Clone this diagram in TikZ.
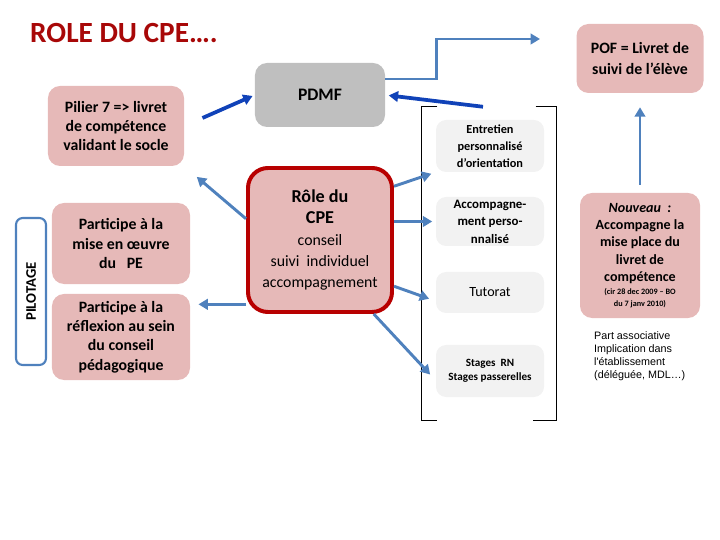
\documentclass[tikz,border=0pt]{standalone}
\usepackage{fontspec}
\setmainfont{Carlito}
\newfontfamily\arialfont{Liberation Sans}
\usetikzlibrary{arrows.meta}

\definecolor{pinkfill}{RGB}{230,185,184}
\definecolor{grayfill}{RGB}{191,191,191}
\definecolor{lightfill}{RGB}{242,242,242}
\definecolor{rolered}{RGB}{184,0,0}
\definecolor{titlered}{RGB}{168,8,8}
\definecolor{steel}{RGB}{79,129,189}
\definecolor{deepblue}{RGB}{16,66,184}

\begin{document}
\begin{tikzpicture}[x=0.03cm,y=-0.03cm,>={Triangle[length=8pt,width=9pt]},
        pinkbox/.style={fill=pinkfill, rounded corners=0.36cm, align=center, inner sep=2pt,
            font=\bfseries\fontsize{13.5}{16.5}\selectfont},
        graybox/.style={fill=grayfill, rounded corners=0.36cm, align=center,
            font=\bfseries\fontsize{15}{18}\selectfont},
        lightbox/.style={fill=lightfill, rounded corners=0.3cm, align=center, inner sep=1pt,
            minimum width=3.24cm},
        bluearrow/.style={->, draw=steel, line width=2.5pt},
        darkarrow/.style={->, draw=deepblue, line width=3.2pt}]
        \useasboundingbox (0,0) rectangle (720,540);

        \node (title) [anchor=west, inner sep=0, text=titlered, font=\bfseries\fontsize{25}{30}\selectfont] at (30,33) {ROLE DU CPE….};

        \node (pdmf) [graybox, minimum width=3.9cm, minimum height=1.92cm] at (320,95) {PDMF};
        \node (pilier) [pinkbox, minimum width=4.08cm, minimum height=2.4cm] at (116,126) {Pilier 7 => livret\\de compétence\\validant le socle};
        \node (pof) [pinkbox, font=\bfseries\fontsize{13.5}{18}\selectfont, minimum width=3.81cm, minimum height=2.07cm] at (640,58.5) {POF = Livret de\\suivi de l’élève};
        \node (role) [pinkbox, draw=rolered, line width=3.4pt, rounded corners=0.6cm, font=\fontsize{13.5}{18}\selectfont,
            minimum width=4.32cm, minimum height=4.32cm] at (320,240)
            {{\bfseries\fontsize{15.5}{19}\selectfont Rôle du}\\{\bfseries\fontsize{15.5}{19}\selectfont CPE}\\conseil\\suivi\ \ individuel\\accompagnement};
        \node (part1) [pinkbox, minimum width=4.14cm, minimum height=2.43cm] at (121,243.5) {Participe à la\\mise en œuvre\\du\ \ \ PE};
        \node (part2) [pinkbox, minimum width=4.14cm, minimum height=2.58cm] at (121,337) {Participe à la\\réflexion au sein\\du conseil\\pédagogique};
        \node (pilot) [draw=steel, line width=1.8pt, rounded corners=0.2cm, rotate=90, minimum width=4.41cm, minimum height=0.9cm,
            font=\bfseries\fontsize{12.5}{15}\selectfont] at (31,291.5) {PILOTAGE};

        % colonne du milieu
        \node (panel) [minimum width=4.05cm, minimum height=9.39cm] at (489,263.5) {};
        \draw[line width=0.8pt] ([xshift=0.48cm]panel.north west) -- (panel.north west) -- (panel.south west) -- ([xshift=0.48cm]panel.south west);
        \draw[line width=0.8pt] ([xshift=-0.63cm]panel.north east) -- (panel.north east) -- (panel.south east) -- ([xshift=-0.72cm]panel.south east);
        \node (entretien) [lightbox, minimum height=1.56cm, font=\bfseries\fontsize{10.5}{14.5}\selectfont] at (490,146) {Entretien\\personnalisé\\d’orientation};
        \node (accomp) [lightbox, minimum height=1.47cm, font=\bfseries\fontsize{11}{15}\selectfont] at (490,221.5) {Accompagne-\\ment perso-\\nnalisé};
        \node (tutorat) [lightbox, minimum height=1.23cm, font=\fontsize{12}{14}\selectfont] at (490,292.5) {Tutorat};
        \node (stages) [lightbox, minimum height=1.56cm, font=\bfseries\fontsize{9.5}{12}\selectfont] at (490,371) {Stages\ \ RN\\Stages passerelles};

        \node (nouveau) [pinkbox, font=\bfseries\fontsize{12}{14.7}\selectfont, minimum width=3.6cm, minimum height=3.75cm] at (640,255.5)
            {{\itshape Nouveau\ \ :}\\Accompagne la\\mise place du\\livret de\\compétence\\[-3pt]{\fontsize{7}{9}\selectfont (cir 28 dec 2009 -- BO}\\[-5pt]{\fontsize{7}{9}\selectfont du 7 janv 2010)}};
        \node (asso) [anchor=west, align=left, inner sep=0, font=\arialfont\fontsize{9.2}{11}\selectfont] at (594,356)
            {Part associative\\Implication dans\\l'établissement\\(déléguée, MDL…)};

        \coordinate (pofin) at (540,39);

        \draw[darkarrow, shorten <=17pt, shorten >=2pt] (pilier.east) -- (pdmf.west);
        \draw[darkarrow, shorten >=3pt] ([xshift=-0.18cm]panel.north) -- (pdmf.east);
        \draw[bluearrow] ([yshift=0.48cm]pdmf.east) -- ++(51,0) |- (pofin);
        \draw[bluearrow, shorten <=7pt, shorten >=12pt] (nouveau.north) -- (pof.south);

        \draw[bluearrow, shorten >=14pt] (role.164) -- (pilier.south east);
        \draw[bluearrow, shorten >=7pt] (role.221) -- (role.221 -| part2.east);
        \draw[bluearrow, shorten >=4pt] (role.36) -- (entretien.south west);
        \draw[bluearrow, shorten >=3pt] (accomp.west -| role.east) -- (accomp.west);
        \draw[bluearrow, shorten >=6pt] (role.-32) -- (tutorat.189);
        \draw[bluearrow, shorten >=7pt] (role.-54) -- (stages.190);
    \end{tikzpicture}
\end{document}
